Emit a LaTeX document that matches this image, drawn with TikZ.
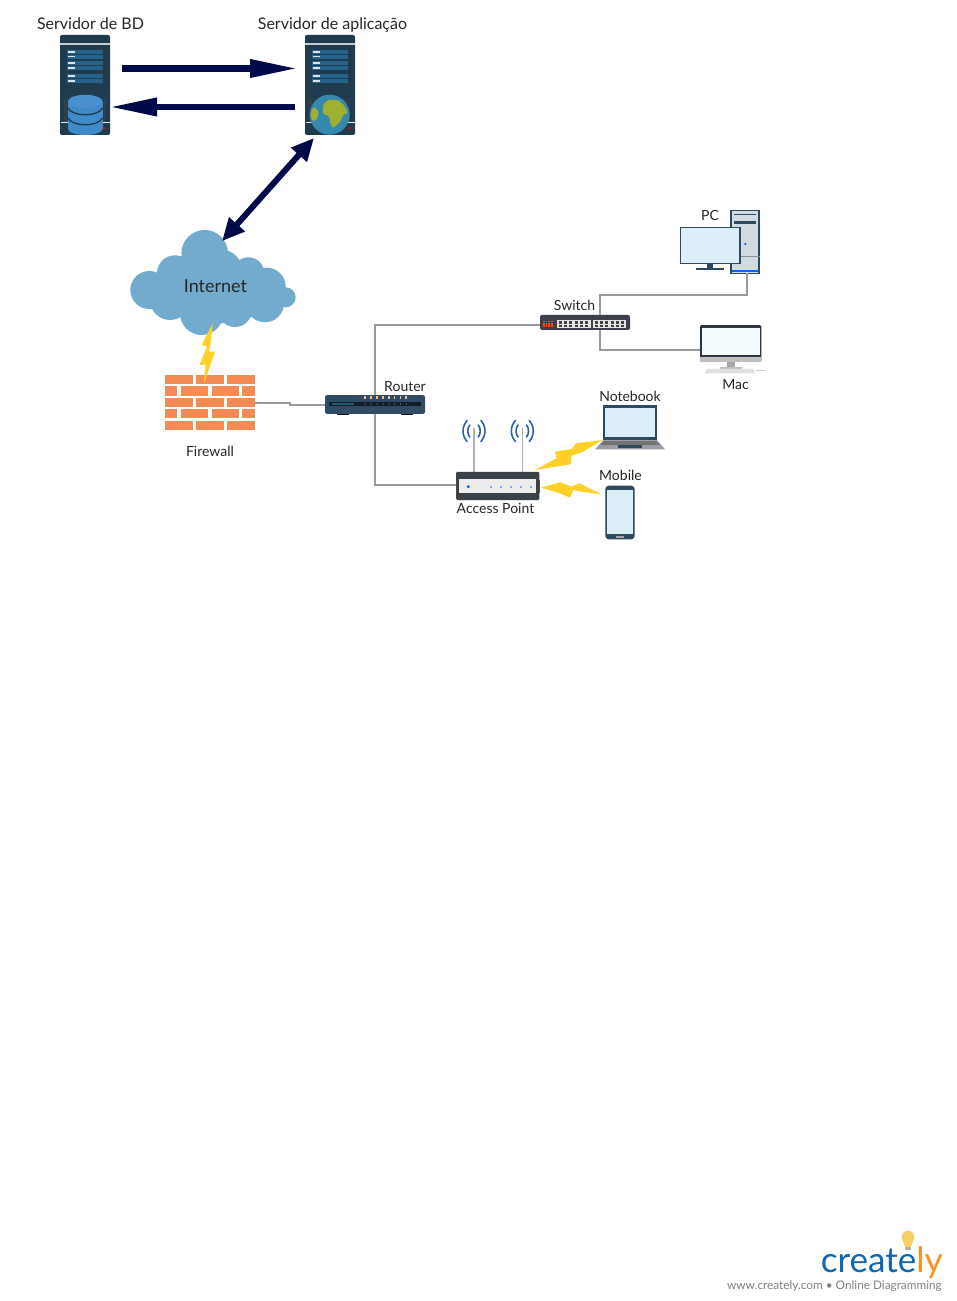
\documentclass[tikz,border=0pt]{standalone}
\usepackage{fontspec}
\setmainfont{Lato}
\usetikzlibrary{arrows.meta,calc}
\definecolor{navyarrow}{HTML}{000A4A}
\definecolor{srv}{HTML}{1F3B4D}
\definecolor{srvstripe}{HTML}{25638A}
\definecolor{cloudblue}{HTML}{72ABCE}
\definecolor{brick}{HTML}{F48B55}
\definecolor{bolt}{HTML}{FFD026}
\definecolor{linkgray}{HTML}{9A9A9A}
\definecolor{screenblue}{HTML}{DCEFF8}
\definecolor{routerblue}{HTML}{2F4B66}
\definecolor{devdark}{HTML}{2E4A5F}
\definecolor{apdark}{HTML}{3A4147}
\definecolor{switchdark}{HTML}{3E3F4E}
\definecolor{macdark}{HTML}{2F3542}
\definecolor{towergray}{HTML}{D3DBE2}
\definecolor{wave}{HTML}{2E5FA8}
\definecolor{dbblue}{HTML}{3F8AC8}
\definecolor{dbtop}{HTML}{4A90CC}
\definecolor{globe}{HTML}{3589AE}
\definecolor{land}{HTML}{A0B030}
\definecolor{bulb}{HTML}{F7CF63}
\definecolor{logoblue}{HTML}{0F67B1}
\definecolor{logoorange}{HTML}{F7941E}
\newcommand{\txtS}{\fontsize{10.5}{12}\selectfont}
\newcommand{\txtM}{\fontsize{12}{14}\selectfont}
\tikzset{
  x=0.75pt,y=-0.75pt,
  lbl/.style={inner sep=0pt,text=black!85,font=\txtS},
  lblbig/.style={inner sep=0pt,text=black!85,font=\txtM,anchor=base},
  box/.style={inner sep=0pt,outer sep=0pt},
  bigarrow/.style={draw=navyarrow,line width=5pt,-{Triangle[length=36pt,width=12.75pt,sep=0pt]}},
  dblarrow/.style={draw=navyarrow,line width=4.5pt,{Triangle[length=17pt,width=15pt]}-{Triangle[length=17pt,width=15pt]}},
  link/.style={draw=linkgray,line width=1.5pt},
  boltshape/.style={fill=bolt,draw=none},
  wavearc/.style={draw=wave,line width=1.2pt,line cap=round}
}
\newcommand{\serverart}{%
  \fill[white!75!srv] (60,43.5) rectangle (110,44.8);
  \foreach \a/\b in {50/54,55/58.7,61/65,66/70,74/78,79/83}{
    \fill[srvstripe] (67,\a) rectangle (103,\b);
    \fill[white!85!srv] (67.5,{(\a+\b)/2-0.6}) rectangle (74.5,{(\a+\b)/2+0.6});
  }
  \fill[srvstripe!70!black] (60,99) rectangle (110,99.7);
  \foreach \v in {64,66,68,100,102,104}{\fill[black!75] (\v,100) rectangle (\v+1,122);}
  \fill[white!90!srv] (60.5,122) rectangle (109.5,122.8);
  \fill[red!60!srv] (104,128.3) circle[radius=1.8];
}
\begin{document}
\begin{tikzpicture}
\useasboundingbox (0,0) rectangle (956,1301);
\fill[white] (0,0) rectangle (956,1301);

% ---------- servers
\node[box,fill=srv,rounded corners=1.5pt,minimum width=37.5pt,minimum height=75pt] (db) at (85,85) {};
\serverart
\fill[dbblue] (68,101.5) rectangle (102.5,129);
\fill[dbblue] (85.25,129) ellipse[x radius=17.25,y radius=6];
\fill[dbtop] (85.25,101.5) ellipse[x radius=17.25,y radius=6.7];
\foreach \yy in {108,118}{
  \draw[srv,line width=1pt] (68,\yy) .. controls (72,{\yy+9}) and (98.5,{\yy+9}) .. (102.5,\yy);
}

\node[box,fill=srv,rounded corners=1.5pt,minimum width=37.5pt,minimum height=75pt] (app) at (330,85) {};
\begin{scope}[shift={(245,0)}]\serverart\end{scope}
\fill[globe] (329.7,114.7) circle[radius=20];
\fill[land,rounded corners=1pt] (323,105) -- (328,100) -- (338,100) -- (344.7,106) -- (348,113.3) -- (343,115) -- (340.3,121.7) -- (333,128.3) -- (330.3,123.3) -- (329,116) -- (323,114) -- cycle;
\fill[land,rounded corners=1pt] (311.3,110) -- (314.7,106.7) -- (318.7,111.7) -- (317.3,118.3) -- (313.7,121.7) -- (311,118.3) -- cycle;

% ---------- labels of servers
\node[lblbig] (dbl) at (90.5,29.7) {Servidor de BD};
\node[lblbig] (appl) at (332.5,29.7) {Servidor de aplicação};

% ---------- cloud
\foreach \cx/\cy/\r in {204.7/253.3/23.3,149.3/290/19,175/273.3/18,170/300/20,201.7/313.3/21.7,235/310/17,248.3/273.3/16,222/270/20,266.7/286.7/19,265/303.3/19,285.7/297.3/10,215/288/36,190/285/30,245/290/28}{
  \fill[cloudblue] (\cx,\cy) circle[radius=\r];
}
\node[box,minimum width=124pt,minimum height=78.5pt] (cloud) at (213,282.5) {};
\node[inner sep=0pt,font=\fontsize{13.5}{15}\selectfont,text=black!85] (cloudl) at (215.5,286) {Internet};

% ---------- firewall
\node[box,minimum width=67.5pt,minimum height=41.25pt] (fw) at (210,402.5) {};
\foreach \a/\b in {375/384.3,397.7/407,420.7/430}{
  \foreach \c/\d in {165/192.7,196.3/224,227.3/255}{\fill[brick] (\c,\a) rectangle (\d,\b);}
}
\foreach \a/\b in {386.3/395.7,409/418.3}{
  \foreach \c/\d in {165/177,180.7/208.3,211.7/239.3,242/255}{\fill[brick] (\c,\a) rectangle (\d,\b);}
}
\fill[boltshape] (212.7,323.3) -- (201.7,345) -- (207,346.5) -- (199.5,365) -- (205.7,364.5) -- (204,383.3) -- (215,351.7) -- (209,351.5) -- (210.7,342.7) -- cycle;
\node[lbl] (fwl) at (210,451) {Firewall};

% ---------- router
\node[box,fill=routerblue,rounded corners=1.5pt,minimum width=75pt,minimum height=14pt] (router) at (375,404.5) {};
\fill[black!45!routerblue!70!black] (329,402) rectangle (421,406);
\fill[teal!40!routerblue] (331.7,403.2) rectangle (354.3,404.8);
\fill[black!80!routerblue] (337,413.7) rectangle (349,415.3);
\fill[black!80!routerblue] (400.7,413.7) rectangle (413,415.3);
\foreach \xx in {365,371,377,383,389,394.5,400.5,406}{
  \fill[orange!50!white] (\xx-0.8,395.8) rectangle (\xx+0.8,399);
  \fill[white!85!routerblue] (\xx,404) circle[radius=0.5];
}
\node[lbl] (routerl) at (405,386.5) {Router};

% ---------- switch
\node[box,fill=switchdark,rounded corners=1.5pt,minimum width=67.5pt,minimum height=11.25pt] (switch) at (585,322.5) {};
\foreach \xx in {543,545.7,548.4,551.1}{\foreach \yy in {321,323.2,325.4}{\fill[orange!60!red] (\xx,\yy) rectangle (\xx+1.6,\yy+1.4);}}
\foreach \xa/\xb in {557.3/591,593.3/626}{
  \fill[black!10] (\xa,320) rectangle (\xb,328.3);
  \foreach \i in {0,...,5}{
    \fill[black!75] ({\xa+1.5+5.3*\i},321) rectangle ({\xa+4.5+5.3*\i},323.7);
    \fill[black!75] ({\xa+1.5+5.3*\i},324.7) rectangle ({\xa+4.5+5.3*\i},327.3);
  }
}
\node[lbl] (switchl) at (574.5,305) {Switch};

% ---------- PC
\node[box,fill=towergray,draw=devdark,line width=1.2pt,minimum width=21pt,minimum height=47pt] (pc) at (745.2,242) {};
\fill[devdark] (734,214) rectangle (756,215.5);
\fill[devdark] (734,221) rectangle (756,224.5);
\draw[devdark!60,line width=0.5pt] (731,256) -- (759.5,256);
\fill[blue!60!cyan] (732,270.3) rectangle (758.5,272);
\fill[blue!60!cyan] (745.3,244) circle[radius=1.2];
\fill[devdark] (707,263.3) rectangle (713.3,268.5);
\fill[devdark] (695.7,268.3) rectangle (724.3,270.3);
\fill[screenblue,draw=devdark,line width=0.8pt] (680.3,227.3) rectangle (740,263.3);
\node[lbl] (pcl) at (710,215) {PC};

% ---------- Mac
\node[box,fill=macdark,rounded corners=1pt,minimum width=46pt,minimum height=27.5pt] (mac) at (730.7,343.4) {};
\fill[white!95!cyan] (702,327.7) rectangle (759.7,355);
\fill[black!25] (700,356.7) rectangle (761.3,361.7);
\fill[black!35] (726.7,361.7) rectangle (735,367.3);
\fill[black!25] (720,367.3) rectangle (741.7,369);
\fill[black!12] (707,369) -- (753,369) -- (755,373.3) -- (704.5,373.3) -- cycle;
\fill[black!20] (755.7,369.7) rectangle (765,371.5);
\node[lbl] (macl) at (735.5,385) {Mac};

% ---------- access point
\draw[black!30,line width=1.1pt] (474,428.3) -- (474,472);
\draw[black!30,line width=1.1pt] (522.3,428.3) -- (522.3,472);
\foreach \xx in {474,522.3}{
  \foreach \s in {-1,1}{
    \draw[wavearc] ({\xx+\s*7},420.5) .. controls ({\xx+\s*12.3},427) and ({\xx+\s*12.3},435) .. ({\xx+\s*7},441.5);
    \draw[wavearc] ({\xx+\s*4.2},425) .. controls ({\xx+\s*6.9},428) and ({\xx+\s*6.9},434) .. ({\xx+\s*4.2},437);
  }
}
\node[box,fill=apdark,rounded corners=1pt,minimum width=62.5pt,minimum height=21.2pt] (ap) at (497.7,485.9) {};
\fill[black!7] (459.3,479) rectangle (536,492.7);
\fill[blue!60!cyan] (468.3,486.7) circle[radius=1.7];
\foreach \xx in {491,501,511,521,531}{\fill[blue!60!cyan] (\xx,487) circle[radius=0.9];}
\fill[black!70] (455.5,480) rectangle (456.5,493);
\fill[black!70] (538.8,480) rectangle (540,493);
\node[lbl] (apl) at (495.5,508) {Access Point};

% ---------- notebook
\node[box,fill=devdark,minimum width=40.5pt,minimum height=26.5pt] (nb) at (630,422.7) {};
\fill[screenblue] (605.3,408.3) rectangle (655.3,437.3);
\fill[black!30!blue!10!gray!70] (603.3,440) -- (657,440) -- (665,449.3) -- (595,449.3) -- cycle;
\fill[black!55] (604,441) -- (656,441) -- (660,445) -- (600,445) -- cycle;
\fill[devdark] (618.3,445) rectangle (642.3,447.5);
\node[lbl] (nbl) at (630,396) {Notebook};

% ---------- mobile
\node[box,fill=devdark,rounded corners=2.5pt,minimum width=22pt,minimum height=40.2pt] (mob) at (620,512.5) {};
\fill[screenblue] (607.3,490) rectangle (632.7,534);
\fill[black!35] (616,536) rectangle (624,537.5);
\node[lbl] (mobl) at (620.5,475) {Mobile};

% ---------- wireless bolts
\fill[boltshape] (535,470) -- (556.7,458.3) -- (555,451.7) -- (571.7,449) -- (576,443.3) -- (602.7,440) -- (581.7,452.3) -- (571.7,455.7) -- (570.7,464.3) -- cycle;
\fill[boltshape] (541,487.7) -- (560,482.3) -- (571.7,486.7) -- (579.3,483.3) -- (601.7,494.3) -- (581.7,491.7) -- (573.3,490) -- (570,497.7) -- (560,493.3) -- cycle;

% ---------- connectors
\draw[bigarrow] ($(db.east)+(12,-16.5)$) -- ($(app.west)+(-7,-16.5)$);
\draw[bigarrow] ($(app.west)+(-10,22)$) -- ($(db.east)+(-1,22)$);
\draw[dblarrow] ($(app.south)+(-16,3)$) -- ($(cloud.north)+(9,11)$);
\draw[link] (fw.east) -- ++(35,0) -- ++(0,2) -- (router.west);
\draw[link] (router.north) |- ($(switch.west)+(0,2.5)$);
\draw[link] (router.south) |- ($(ap.west)+(0,-1)$);
\draw[link] ($(switch.north)+(15,0)$) |- ($(pc.south)+(2,21.7)$) -- ($(pc.south)+(2,0)$);
\draw[link] ($(switch.south)+(15,0)$) |- ($(mac.west)+(0,6.5)$);

% ---------- logo
\fill[bulb] (908,1237) circle[radius=6.3];
\fill[bulb] (903,1241) -- (913,1241) -- (911,1247) -- (905,1247) -- cycle;
\fill[black!30] (905,1247) rectangle (911,1249.5);
\node[inner sep=0pt,anchor=base east,font=\fontsize{26.3}{30}\selectfont] (logo) at (943,1272) {\textcolor{logoblue}{create}\textcolor{logoorange}{ly}};
\node[inner sep=0pt,anchor=base east,font=\fontsize{8.85}{11}\selectfont,text=black!50] (tag) at (942,1289) {www.creately.com • Online Diagramming};
\end{tikzpicture}
\end{document}
